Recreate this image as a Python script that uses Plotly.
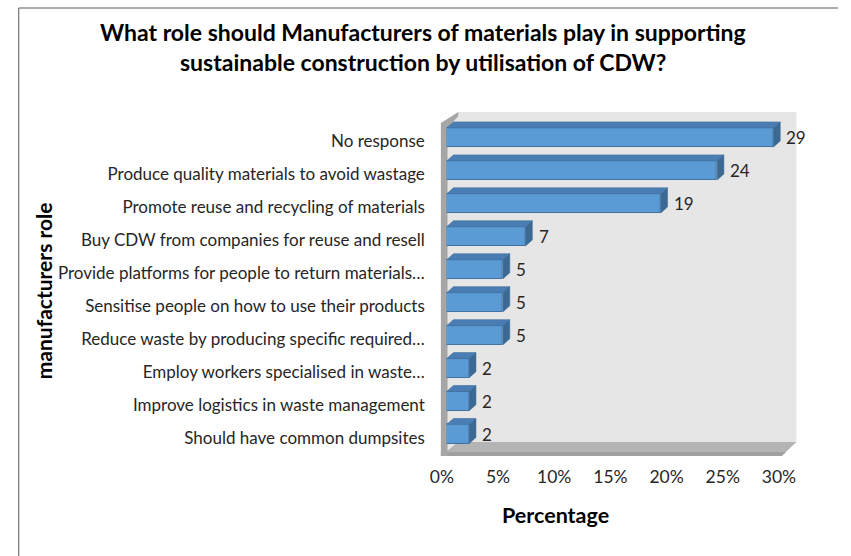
import plotly.graph_objects as go

# ---- data -------------------------------------------------------------
categories = [
    "No response",
    "Produce quality materials to avoid wastage",
    "Promote reuse and recycling of materials",
    "Buy CDW from companies for reuse and resell",
    "Provide platforms for people to return materials\u2026",
    "Sensitise people on how to use their products",
    "Reduce waste by producing specific required\u2026",
    "Employ workers specialised in waste\u2026",
    "Improve logistics in waste management",
    "Should have common dumpsites",
]
values = [29, 24, 19, 7, 5, 5, 5, 2, 2, 2]
tick_values = [0, 5, 10, 15, 20, 25, 30]
tick_labels = ["0%", "5%", "10%", "15%", "20%", "25%", "30%"]

# ---- page geometry (margins are zero, so paper == whole figure) -------
W, H = 851, 556
FONT = "Lato"


def fx(px):
    return px / W


def fy(py):
    return 1 - py / H


n = len(categories)
pos = list(range(n))

# bar (front face) axes
BX0, BX1 = 450, 800
ROW = 32.95
BY_TOP = 137.5 - ROW / 2
BY_BOT = BY_TOP + ROW * n
# label / tick axes (sit on the floor edge, slightly shifted)
LX0, LX1 = 445, 794
LY_TOP = 141 - ROW / 2
LY_BOT = LY_TOP + ROW * n

BAR_W = 0.58
DEPTH_X = 7 / ((BX1 - BX0) / 30.0)   # 7 px expressed in axis units
DEPTH_Y = 6 / ROW                     # 6 px expressed in category units

FRONT = "#5B9BD5"
TOP = "#4A7DB3"
SIDE = "#3C6894"
EDGE = "#41719C"
TEXT = "#262626"

fig = go.Figure()

# front faces
fig.add_trace(go.Bar(
    x=values, y=pos, orientation="h", width=BAR_W,
    marker=dict(color=FRONT, line=dict(color=EDGE, width=1)),
    xaxis="x2", yaxis="y2", hoverinfo="skip", showlegend=False,
))

# top and side faces of each bar
top_x, top_y, side_x, side_y = [], [], [], []
for i, v in zip(pos, values):
    t = i - BAR_W / 2
    b = i + BAR_W / 2
    top_x += [0, v, v + DEPTH_X, DEPTH_X, 0, None]
    top_y += [t, t, t - DEPTH_Y, t - DEPTH_Y, t, None]
    side_x += [v, v + DEPTH_X, v + DEPTH_X, v, v, None]
    side_y += [t, t - DEPTH_Y, b - DEPTH_Y, b, t, None]

fig.add_trace(go.Scatter(
    x=top_x, y=top_y, mode="lines", fill="toself", fillcolor=TOP,
    line=dict(color=EDGE, width=0.6), xaxis="x2", yaxis="y2",
    hoverinfo="skip", showlegend=False,
))
fig.add_trace(go.Scatter(
    x=side_x, y=side_y, mode="lines", fill="toself", fillcolor=SIDE,
    line=dict(color=EDGE, width=0.6), xaxis="x2", yaxis="y2",
    hoverinfo="skip", showlegend=False,
))

# empty trace so the label axes are laid out
fig.add_trace(go.Scatter(x=[None], y=[None], xaxis="x", yaxis="y",
                         hoverinfo="skip", showlegend=False))

# data labels
for i, v in zip(pos, values):
    fig.add_annotation(
        x=v, y=i, xref="x2", yref="y2", text=str(v), showarrow=False,
        xanchor="left", yanchor="middle", xshift=11, yshift=0,
        font=dict(family=FONT, size=17, color=TEXT),
    )

# chart walls (drawn underneath the bars)
shapes = []
# back wall
shapes.append(dict(
    type="path", xref="paper", yref="paper", layer="below",
    path=(f"M {fx(451)} {fy(452)} L {fx(451)} {fy(127)} L {fx(462)} {fy(112)} "
          f"L {fx(812)} {fy(112)} L {fx(812)} {fy(443)} Z"),
    fillcolor="#E6E6E6", line=dict(width=0),
))
# floor
shapes.append(dict(
    type="path", xref="paper", yref="paper", layer="below",
    path=(f"M {fx(444)} {fy(456)} L {fx(797)} {fy(456)} L {fx(812)} {fy(442)} "
          f"L {fx(462)} {fy(442)} Z"),
    fillcolor="#B4B4B4", line=dict(width=0),
))
shapes.append(dict(
    type="path", xref="paper", yref="paper", layer="below",
    path=(f"M {fx(444)} {fy(456)} L {fx(797)} {fy(456)} L {fx(801)} {fy(452)} "
          f"L {fx(444)} {fy(452)} Z"),
    fillcolor="#A0A0A0", line=dict(width=0),
))
# left wall
shapes.append(dict(
    type="path", xref="paper", yref="paper", layer="below",
    path=(f"M {fx(444)} {fy(456)} L {fx(444)} {fy(123)} L {fx(462)} {fy(112)} "
          f"L {fx(462)} {fy(116)} L {fx(451)} {fy(128)} L {fx(451)} {fy(456)} Z"),
    fillcolor="#A6A6A6", line=dict(width=0),
))
# outer chart border
shapes.append(dict(
    type="path", xref="paper", yref="paper", layer="below",
    path=f"M {fx(7)} {fy(560)} L {fx(7)} {fy(8)} L {fx(855)} {fy(8)}",
    line=dict(color="#595959", width=1),
))

# titles
fig.add_annotation(
    x=fx(425.5), y=fy(32), xref="paper", yref="paper", showarrow=False,
    text="<b>What role should Manufacturers of materials play in supporting</b>",
    font=dict(family=FONT, size=23, color="#000000"), yanchor="middle",
)
fig.add_annotation(
    x=fx(425.5), y=fy(62), xref="paper", yref="paper", showarrow=False,
    text="<b>sustainable construction by utilisation of CDW?</b>",
    font=dict(family=FONT, size=23, color="#000000"), yanchor="middle",
)
fig.add_annotation(
    x=fx(620), y=fy(515), xref="paper", yref="paper", showarrow=False,
    text="<b>Percentage</b>", font=dict(family=FONT, size=21.5, color="#000000"),
    yanchor="middle",
)
fig.add_annotation(
    x=fx(36), y=fy(291), xref="paper", yref="paper", showarrow=False,
    text="<b>manufacturers role</b>", textangle=-90,
    font=dict(family=FONT, size=21, color="#000000"),
    xanchor="right", yanchor="middle", xshift=11,
)

fig.update_layout(
    width=W, height=H,
    margin=dict(l=0, r=0, t=0, b=0),
    paper_bgcolor="white", plot_bgcolor="rgba(0,0,0,0)",
    shapes=shapes, bargap=0,
    font=dict(family=FONT, color=TEXT),
    # tick / category label axes
    xaxis=dict(
        domain=[fx(LX0), fx(LX1)], range=[0, 30], anchor="y",
        tickmode="array", tickvals=tick_values, ticktext=tick_labels,
        showgrid=False, zeroline=False, showline=False, ticks="",
        ticklabelstandoff=10,
        tickfont=dict(family=FONT, size=17.5, color=TEXT),
        fixedrange=True,
    ),
    yaxis=dict(
        domain=[fy(LY_BOT), fy(LY_TOP)], range=[n - 0.5, -0.5], anchor="x",
        tickmode="array", tickvals=pos, ticktext=categories,
        showgrid=False, zeroline=False, showline=False, ticks="",
        ticklabelstandoff=16,
        tickfont=dict(family=FONT, size=17, color=TEXT),
        fixedrange=True,
    ),
    # bar axes
    xaxis2=dict(
        domain=[fx(BX0), fx(BX1)], range=[0, 30], anchor="y2",
        visible=False, fixedrange=True,
    ),
    yaxis2=dict(
        domain=[fy(BY_BOT), fy(BY_TOP)], range=[n - 0.5, -0.5], anchor="x2",
        visible=False, fixedrange=True,
    ),
)

fig.write_html("out.html")
